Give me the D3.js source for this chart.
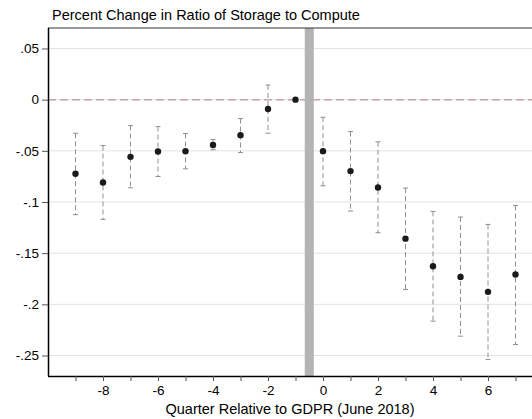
<!DOCTYPE html>
<html>
<head>
<meta charset="utf-8">
<script src="https://cdn.jsdelivr.net/npm/d3@7"></script>
<style>
  body { margin: 0; background: #fff; }
  text { font-family: "Liberation Sans", Arial, sans-serif; }
</style>
</head>
<body>
<div id="chart"></div>
<script>
// quarters relative to GDPR and estimates with 95% CI
var quarters = [-9, -8, -7, -6, -5, -4, -3, -2, -1, 0, 1, 2, 3, 4, 5, 6, 7];
var estimate = [-0.0724, -0.0809, -0.0559, -0.0507, -0.0503, -0.0442, -0.0347, -0.0091, 0,
                -0.0503, -0.0698, -0.0858, -0.1358, -0.1628, -0.1732, -0.1878, -0.1709];
var ciUpper = [-0.0328, -0.0448, -0.0253, -0.0263, -0.0331, -0.0390, -0.0185, 0.0143, null,
               -0.0172, -0.0312, -0.0412, -0.0864, -0.1092, -0.1147, -0.1219, -0.1034];
var ciLower = [-0.1124, -0.1170, -0.0861, -0.0751, -0.0676, -0.0490, -0.0517, -0.0328, null,
               -0.0841, -0.1088, -0.1300, -0.1855, -0.2164, -0.2311, -0.2538, -0.2392];
var yTicks = [0.05, 0, -0.05, -0.1, -0.15, -0.2, -0.25];
var yLabels = [".05", "0", "-.05", "-.1", "-.15", "-.2", "-.25"];
var xTicks = [-9, -8, -7, -6, -5, -4, -3, -2, -1, 0, 1, 2, 3, 4, 5, 6, 7];
var xLabels = [-8, -6, -4, -2, 0, 2, 4, 6];
var eventAt = -0.5;

var W = 532, H = 419;
var margin = {top: 28, left: 48, bottom: 43};
var plotH = H - margin.top - margin.bottom;

var svg = d3.select("#chart").append("svg")
  .attr("width", W).attr("height", H);

var x = d3.scaleLinear().domain([-10, 8]).range([margin.left, margin.left + 18 * 27.5]);
var y = d3.scaleLinear().domain([-0.27, 0.07]).range([margin.top + plotH, margin.top]);

// gridlines
svg.append("g").selectAll("line")
  .data(yTicks).enter().append("line")
  .attr("x1", margin.left).attr("x2", W)
  .attr("y1", d => y(d)).attr("y2", d => y(d))
  .attr("stroke", "#e3e3e3").attr("stroke-width", 1);

// zero reference line
svg.append("line")
  .attr("x1", margin.left).attr("x2", W)
  .attr("y1", y(0)).attr("y2", y(0))
  .attr("stroke", "#c9a2a6").attr("stroke-width", 1.5)
  .attr("stroke-dasharray", "8,4");

// GDPR bar
svg.append("rect")
  .attr("x", x(eventAt) - 4.5).attr("width", 9)
  .attr("y", y(0.07)).attr("height", y(-0.27) - y(0.07))
  .attr("fill", "#b3b3b3");

// confidence intervals
var ci = quarters.map((q, i) => ({q: q, est: estimate[i], lo: ciLower[i], hi: ciUpper[i]}));
var withCi = ci.filter(d => d.lo !== null);

svg.append("g").selectAll("line")
  .data(withCi).enter().append("line")
  .attr("x1", d => x(d.q)).attr("x2", d => x(d.q))
  .attr("y1", d => y(d.hi)).attr("y2", d => y(d.lo))
  .attr("stroke", "#8f8f8f").attr("stroke-width", 1)
  .attr("stroke-dasharray", "5,3");

["hi", "lo"].forEach(function(k) {
  svg.append("g").selectAll("line")
    .data(withCi).enter().append("line")
    .attr("x1", d => x(d.q) - 2.5).attr("x2", d => x(d.q) + 2.5)
    .attr("y1", d => y(d[k])).attr("y2", d => y(d[k]))
    .attr("stroke", "#8f8f8f").attr("stroke-width", 1);
});

// points
svg.append("g").selectAll("circle")
  .data(ci).enter().append("circle")
  .attr("cx", d => x(d.q)).attr("cy", d => y(d.est))
  .attr("r", 3.2)
  .attr("fill", "#1a1a1a");

// top frame
svg.append("line")
  .attr("x1", margin.left).attr("x2", W)
  .attr("y1", margin.top).attr("y2", margin.top)
  .attr("stroke", "#333").attr("stroke-width", 1);

// y axis
var yAxis = svg.append("g")
  .attr("transform", "translate(" + margin.left + ",0)")
  .call(d3.axisLeft(y).tickValues(yTicks)
    .tickFormat((d, i) => yLabels[i]).tickSize(6).tickPadding(3));
yAxis.select(".domain").attr("stroke", "#000").attr("stroke-width", 1.5)
  .attr("d", "M0.5," + margin.top + "V" + (margin.top + plotH));
yAxis.selectAll(".tick line").attr("stroke", "#555");
yAxis.selectAll("text").attr("font-size", 13.5).attr("fill", "#000")
  .style("font-family", "'Liberation Sans', Arial, sans-serif");

// x axis
var xAxis = svg.append("g")
  .attr("transform", "translate(0," + (margin.top + plotH) + ")")
  .call(d3.axisBottom(x).tickValues(xTicks)
    .tickFormat(d => xLabels.indexOf(d) >= 0 ? String(d).replace("\u2212", "-") : "")
    .tickSize(5).tickPadding(4));
xAxis.select(".domain").attr("stroke", "#000").attr("stroke-width", 1.5)
  .attr("d", "M" + margin.left + ",0.5H" + W);
xAxis.selectAll(".tick line").attr("stroke", "#555");
xAxis.selectAll("text").attr("font-size", 13.5).attr("fill", "#000")
  .style("font-family", "'Liberation Sans', Arial, sans-serif");

// titles
svg.append("text")
  .attr("x", 52).attr("y", 20)
  .attr("font-size", 14.5)
  .text("Percent Change in Ratio of Storage to Compute");

svg.append("text")
  .attr("x", 290).attr("y", 414)
  .attr("text-anchor", "middle")
  .attr("font-size", 14.5)
  .text("Quarter Relative to GDPR (June 2018)");
</script>
</body>
</html>
